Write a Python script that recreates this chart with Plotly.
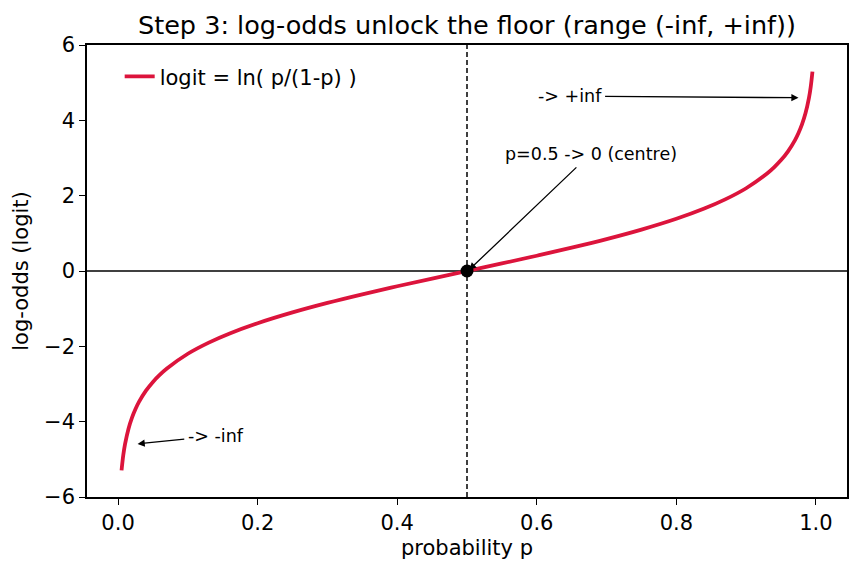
import plotly.graph_objects as go

# Curve values (probability p, log-odds)
p_vals = [0.005, 0.0075, 0.01, 0.015, 0.02, 0.025, 0.03, 0.04, 0.05, 0.06, 0.07, 0.1, 0.13, 0.16,
          0.2, 0.25, 0.3, 0.35, 0.4, 0.45, 0.5, 0.55, 0.6, 0.65, 0.7, 0.75, 0.8, 0.84, 0.87,
          0.9, 0.93, 0.94, 0.95, 0.96, 0.97, 0.975, 0.98, 0.985, 0.99, 0.9925, 0.995]
logit_vals = [-5.293, -4.885, -4.595, -4.185, -3.892, -3.664, -3.476, -3.178, -2.944, -2.752, -2.587,
              -2.197, -1.901, -1.658, -1.386, -1.099, -0.847, -0.619, -0.405, -0.201, 0.0,
              0.201, 0.405, 0.619, 0.847, 1.099, 1.386, 1.658, 1.901, 2.197, 2.587, 2.752,
              2.944, 3.178, 3.476, 3.664, 3.892, 4.185, 4.595, 4.885, 5.293]

centre_p = [0.5]
centre_logit = [0.0]

x_ticks = [0.0, 0.2, 0.4, 0.6, 0.8, 1.0]
x_tick_text = ["0.0", "0.2", "0.4", "0.6", "0.8", "1.0"]
y_ticks = [-6, -4, -2, 0, 2, 4, 6]
y_tick_text = ["\u22126", "\u22124", "\u22122", "0", "2", "4", "6"]

# annotations: text, head (x, y), text centre (x, y)
ann_texts = ["-> +inf", "p=0.5 -> 0 (centre)", "-> -inf"]
ann_head = [(0.975, 4.6), (0.503, 0.03), (0.028, -4.59)]
ann_text_pos = [(0.647, 4.64), (0.677, 3.11), (0.14, -4.38)]

FONT = "DejaVu Sans"
RED = "#DC143C"

fig = go.Figure()
fig.add_trace(go.Scatter(x=p_vals, y=logit_vals, mode="lines", name="logit = ln( p/(1-p) )",
                         line=dict(color=RED, width=3.8, shape="spline")))
fig.add_trace(go.Scatter(x=centre_p, y=centre_logit, mode="markers", showlegend=False,
                         marker=dict(color="black", size=13)))

fig.add_hline(y=0, line=dict(color="black", width=1.5), layer="below")
fig.add_vline(x=0.5, line=dict(color="black", width=1.5, dash="5px,3px"), layer="below")

for t, h, tp in zip(ann_texts, ann_head, ann_text_pos):
    fig.add_annotation(x=h[0], y=h[1], ax=tp[0], ay=tp[1], xref="x", yref="y", axref="x", ayref="y",
                       text=t, showarrow=True, arrowhead=2, arrowsize=1.1, arrowwidth=1.3,
                       arrowcolor="black", standoff=0, borderpad=3,
                       font=dict(family=FONT, size=17.5, color="black"))

fig.update_layout(
    width=860, height=573,
    margin=dict(l=87, r=13, t=45, b=76),
    paper_bgcolor="white", plot_bgcolor="white",
    font=dict(family=FONT, size=21, color="black"),
    title=dict(text="Step 3: log-odds unlock the floor (range (-inf, +inf))",
               x=0.5, xanchor="center", xref="paper", y=0.956, yanchor="middle",
               font=dict(family=FONT, size=25.5, color="black")),
    showlegend=True,
    legend=dict(x=0.043, y=0.975, xanchor="left", yanchor="top", bgcolor="rgba(0,0,0,0)",
                font=dict(family=FONT, size=21)),
)
fig.update_xaxes(range=[-0.0445, 1.0445], tickvals=x_ticks, ticktext=x_tick_text,
                 showgrid=False, zeroline=False, showline=True, mirror=True, linecolor="black",
                 linewidth=1.6, ticks="outside", ticklen=6, tickwidth=1.2, tickcolor="black",
                 tickfont=dict(family=FONT, size=21),
                 title=dict(text="probability p", font=dict(family=FONT, size=21), standoff=6))
fig.update_yaxes(range=[-6, 6], tickvals=y_ticks, ticktext=y_tick_text,
                 showgrid=False, zeroline=False, showline=True, mirror=True, linecolor="black",
                 linewidth=1.6, ticks="outside", ticklen=6, tickwidth=1.2, tickcolor="black",
                 tickfont=dict(family=FONT, size=21),
                 title=dict(text="log-odds (logit)", font=dict(family=FONT, size=21), standoff=10))

fig.write_html("out.html")
